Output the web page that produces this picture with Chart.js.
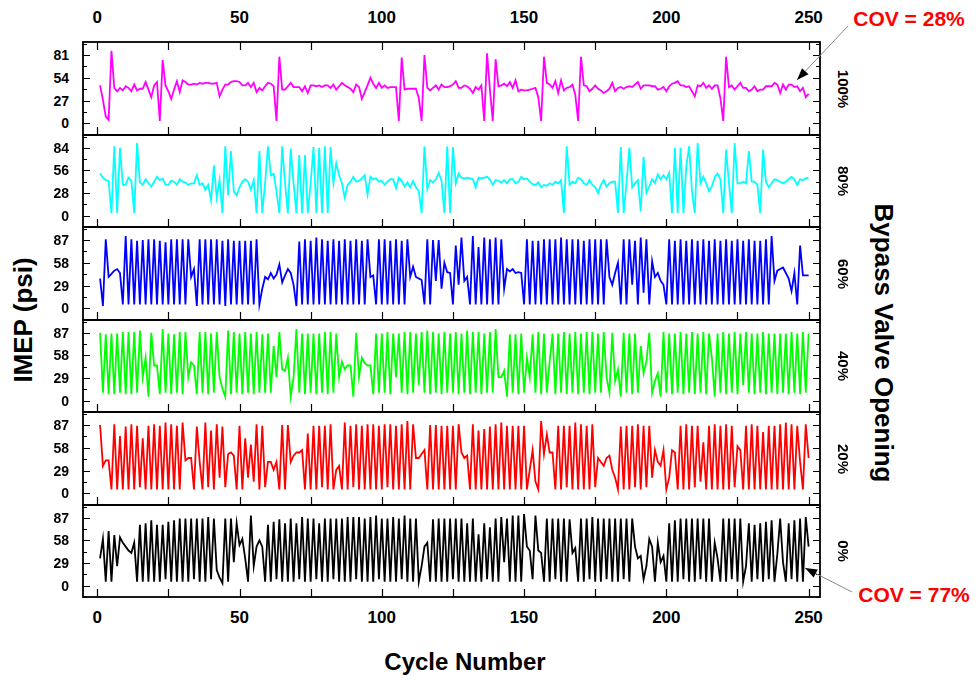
<!DOCTYPE html>
<html>
<head>
<meta charset="utf-8">
<script src="https://cdn.jsdelivr.net/npm/chart.js@4.4.0/dist/chart.umd.min.js"></script>
<style>
  body { margin: 0; background: #fff; }
  #wrap { position: relative; width: 979px; height: 684px; overflow: hidden;
          font-family: "Liberation Sans", Arial, sans-serif; font-weight: bold; color: #000; }
  #wrap canvas { position: absolute; }
  .lbl { position: absolute; white-space: nowrap; line-height: 1; }
  #arrows { position: absolute; left: 0; top: 0; }
</style>
</head>
<body>
<div id="wrap"></div>
<script>
// cycle numbers and axis labels
const cycles = Array.from({ length: 250 }, (_, i) => i + 1);
const cycleTicks = [0, 50, 100, 150, 200, 250];

// IMEP tick labels per panel
const ticks100 = [0, 27, 54, 81];
const ticks80 = [0, 28, 56, 84];
const ticks60 = [0, 29, 58, 87];
const ticks40 = [0, 29, 58, 87];
const ticks20 = [0, 29, 58, 87];
const ticks0 = [0, 29, 58, 87];

// IMEP (psi) per cycle, one list per bypass valve opening
const imep100 = [
  45, 28, 8, 4, 86, 42, 38, 42, 39, 44,
  42, 38, 46, 39, 41, 41, 49, 40, 31, 45,
  49, 3, 75, 45, 38, 29, 40, 50, 37, 51,
  49, 46, 46, 47, 46, 48, 47, 48, 48, 47,
  47, 48, 32, 40, 46, 46, 49, 50, 50, 49,
  45, 45, 48, 43, 48, 37, 42, 39, 44, 48,
  47, 44, 3, 79, 40, 40, 44, 48, 43, 43,
  43, 38, 44, 36, 45, 45, 44, 45, 43, 45,
  45, 42, 46, 40, 44, 48, 45, 43, 41, 37,
  46, 43, 29, 37, 45, 54, 47, 42, 48, 42,
  45, 42, 43, 43, 43, 3, 78, 40, 41, 41,
  41, 41, 30, 3, 81, 42, 39, 42, 45, 40,
  46, 43, 43, 44, 46, 50, 42, 42, 45, 44,
  41, 36, 43, 40, 45, 3, 83, 40, 3, 76,
  44, 45, 47, 44, 49, 42, 51, 38, 40, 39,
  39, 40, 41, 42, 31, 3, 79, 48, 46, 42,
  50, 36, 51, 39, 42, 43, 46, 34, 3, 79,
  45, 44, 38, 41, 45, 41, 39, 36, 38, 41,
  48, 38, 42, 43, 41, 43, 44, 43, 46, 49,
  41, 45, 45, 45, 44, 44, 40, 41, 43, 38,
  44, 47, 48, 50, 45, 45, 43, 44, 38, 32,
  45, 44, 48, 42, 45, 41, 45, 45, 30, 3,
  79, 43, 45, 40, 44, 48, 42, 42, 38, 40,
  44, 38, 40, 40, 44, 44, 44, 48, 46, 36,
  46, 40, 46, 46, 43, 44, 38, 42, 31, 35
];
const imep80 = [
  52, 47, 44, 43, 3, 86, 3, 84, 38, 38,
  47, 43, 3, 90, 41, 38, 45, 40, 36, 42,
  48, 44, 46, 38, 38, 43, 42, 38, 45, 42,
  41, 38, 40, 40, 50, 38, 40, 32, 38, 19,
  62, 22, 44, 3, 86, 25, 80, 30, 25, 35,
  42, 45, 42, 32, 44, 3, 80, 3, 40, 86,
  50, 52, 30, 3, 86, 40, 3, 83, 40, 3,
  75, 3, 75, 3, 40, 85, 3, 84, 3, 86,
  3, 85, 40, 65, 50, 40, 22, 38, 42, 48,
  42, 43, 46, 50, 26, 48, 45, 46, 42, 43,
  38, 42, 45, 45, 34, 47, 43, 36, 41, 35,
  43, 35, 30, 3, 86, 33, 44, 41, 45, 53,
  43, 3, 86, 3, 85, 40, 52, 47, 46, 47,
  46, 45, 35, 47, 46, 47, 48, 45, 38, 44,
  43, 41, 44, 40, 45, 45, 40, 42, 48, 45,
  46, 42, 39, 38, 41, 35, 38, 37, 40, 38,
  42, 40, 44, 3, 86, 38, 42, 40, 47, 45,
  40, 38, 44, 38, 35, 28, 38, 44, 36, 40,
  42, 42, 3, 85, 3, 40, 84, 35, 40, 44,
  5, 73, 28, 36, 45, 40, 51, 45, 50, 45,
  53, 3, 84, 3, 84, 3, 60, 86, 30, 3,
  90, 40, 48, 40, 30, 36, 48, 52, 45, 3,
  82, 40, 3, 90, 40, 40, 42, 40, 80, 42,
  42, 38, 3, 82, 42, 35, 40, 45, 44, 42,
  40, 42, 45, 48, 45, 38, 45, 44, 46, 47
];
const imep60 = [
  38, 3, 88, 40, 44, 48, 50, 45, 5, 92,
  5, 88, 5, 86, 5, 87, 5, 88, 5, 88,
  5, 86, 5, 84, 5, 88, 5, 88, 5, 88,
  5, 88, 40, 50, 3, 88, 5, 88, 5, 88,
  5, 88, 5, 86, 3, 88, 5, 86, 5, 86,
  5, 86, 5, 86, 5, 88, 5, 25, 40, 37,
  45, 38, 43, 56, 33, 42, 50, 45, 30, 3,
  85, 5, 88, 5, 86, 5, 90, 5, 88, 5,
  86, 5, 88, 5, 86, 5, 88, 5, 86, 5,
  88, 5, 86, 5, 88, 40, 42, 5, 88, 5,
  88, 5, 86, 5, 88, 5, 86, 5, 88, 40,
  53, 40, 38, 36, 5, 88, 5, 87, 35, 87,
  25, 58, 46, 45, 5, 80, 30, 90, 35, 40,
  5, 92, 5, 78, 5, 90, 5, 88, 5, 90,
  5, 88, 25, 50, 47, 50, 45, 46, 45, 5,
  88, 5, 86, 5, 86, 5, 88, 5, 88, 5,
  88, 5, 90, 5, 88, 5, 88, 5, 88, 5,
  86, 5, 88, 5, 88, 5, 88, 5, 88, 40,
  30, 45, 58, 5, 88, 5, 88, 30, 86, 5,
  90, 20, 88, 5, 60, 40, 45, 35, 30, 5,
  88, 5, 86, 5, 88, 5, 86, 5, 88, 5,
  86, 5, 88, 5, 86, 5, 88, 5, 86, 5,
  88, 5, 86, 5, 88, 5, 86, 5, 88, 5,
  86, 5, 86, 5, 88, 5, 92, 35, 48, 50,
  52, 45, 38, 22, 45, 5, 80, 42, 42, 42
];
const imep40 = [
  87, 10, 85, 8, 86, 8, 86, 10, 88, 8,
  88, 8, 88, 10, 90, 30, 55, 5, 87, 45,
  45, 8, 92, 10, 86, 8, 85, 10, 88, 8,
  88, 30, 49, 45, 8, 88, 10, 88, 8, 86,
  10, 88, 30, 15, 5, 90, 8, 88, 10, 86,
  8, 88, 10, 86, 8, 88, 10, 85, 10, 86,
  10, 70, 30, 88, 40, 38, 55, 5, 30, 92,
  10, 86, 8, 86, 10, 86, 8, 86, 10, 88,
  8, 88, 10, 86, 30, 50, 40, 45, 45, 5,
  87, 30, 55, 48, 45, 45, 8, 86, 10, 86,
  10, 88, 8, 86, 30, 86, 10, 88, 8, 88,
  10, 86, 20, 88, 10, 90, 8, 88, 10, 86,
  8, 88, 10, 86, 10, 88, 8, 86, 10, 90,
  8, 88, 10, 88, 8, 86, 10, 88, 10, 92,
  30, 30, 38, 5, 85, 10, 85, 8, 86, 10,
  55, 30, 85, 10, 88, 8, 86, 10, 50, 86,
  8, 86, 10, 88, 8, 86, 10, 88, 8, 86,
  10, 88, 8, 88, 10, 86, 10, 88, 30, 10,
  87, 25, 40, 5, 87, 10, 86, 8, 86, 10,
  70, 35, 50, 87, 10, 25, 35, 5, 88, 10,
  86, 8, 86, 10, 88, 8, 86, 10, 88, 8,
  86, 10, 88, 8, 86, 55, 5, 86, 10, 88,
  8, 86, 10, 88, 8, 86, 20, 88, 10, 86,
  8, 86, 10, 88, 8, 86, 10, 86, 8, 86,
  10, 86, 8, 88, 10, 86, 8, 88, 10, 86
];
const imep20 = [
  87, 35, 42, 42, 5, 88, 5, 73, 5, 85,
  5, 88, 5, 86, 8, 70, 5, 86, 5, 88,
  5, 86, 5, 90, 5, 88, 5, 86, 5, 90,
  42, 45, 45, 5, 85, 40, 5, 90, 8, 80,
  5, 88, 20, 85, 8, 50, 52, 48, 5, 86,
  5, 70, 20, 62, 15, 88, 5, 86, 8, 40,
  40, 30, 40, 5, 87, 5, 87, 40, 48, 52,
  52, 55, 5, 76, 5, 86, 5, 86, 8, 86,
  5, 88, 5, 30, 35, 5, 90, 5, 86, 8,
  88, 5, 86, 5, 88, 5, 88, 5, 86, 5,
  88, 8, 88, 5, 86, 5, 88, 5, 92, 5,
  88, 45, 45, 50, 55, 5, 87, 5, 87, 5,
  86, 5, 86, 5, 86, 5, 88, 52, 45, 48,
  5, 88, 5, 80, 5, 82, 5, 85, 5, 88,
  5, 90, 5, 86, 5, 86, 5, 86, 5, 86,
  5, 30, 55, 15, 5, 92, 50, 75, 52, 52,
  5, 86, 5, 86, 8, 86, 5, 90, 5, 88,
  5, 86, 5, 88, 8, 45, 40, 35, 45, 48,
  30, 20, 5, 85, 5, 86, 5, 86, 8, 88,
  5, 86, 8, 86, 20, 55, 40, 35, 55, 5,
  20, 55, 52, 5, 86, 5, 88, 5, 86, 8,
  86, 15, 65, 5, 86, 5, 88, 5, 86, 5,
  88, 5, 86, 8, 60, 55, 5, 86, 5, 88,
  5, 86, 5, 78, 5, 86, 5, 86, 5, 88,
  5, 90, 5, 88, 5, 86, 40, 5, 88, 45
];
const imep0 = [
  35, 60, 5, 70, 5, 65, 25, 62, 55, 50,
  45, 42, 55, 5, 78, 5, 80, 5, 84, 5,
  78, 5, 78, 8, 82, 5, 84, 5, 86, 5,
  86, 5, 86, 8, 86, 5, 86, 5, 88, 8,
  86, 20, 10, 3, 86, 5, 86, 30, 80, 52,
  60, 35, 5, 90, 25, 50, 58, 50, 5, 78,
  5, 82, 8, 85, 5, 80, 5, 86, 5, 80,
  8, 88, 5, 86, 5, 86, 8, 80, 5, 86,
  5, 86, 8, 86, 5, 86, 5, 88, 5, 88,
  8, 88, 5, 86, 5, 88, 5, 90, 8, 86,
  5, 86, 5, 88, 5, 86, 8, 90, 5, 86,
  5, 86, 5, 25, 50, 55, 5, 85, 5, 86,
  5, 86, 5, 86, 8, 86, 5, 86, 5, 80,
  5, 86, 5, 66, 5, 80, 8, 75, 5, 86,
  5, 88, 30, 86, 5, 90, 5, 90, 5, 92,
  50, 45, 8, 90, 45, 42, 5, 86, 5, 86,
  8, 86, 5, 86, 5, 85, 42, 48, 5, 86,
  5, 86, 8, 88, 5, 86, 5, 86, 8, 86,
  5, 86, 5, 86, 8, 86, 5, 86, 50, 35,
  38, 8, 25, 60, 50, 5, 55, 30, 38, 5,
  80, 5, 84, 5, 86, 8, 86, 5, 86, 5,
  86, 8, 86, 5, 86, 5, 55, 35, 5, 86,
  5, 86, 8, 86, 5, 86, 5, 25, 80, 5,
  78, 8, 80, 5, 82, 8, 84, 5, 40, 86,
  30, 5, 80, 8, 84, 5, 86, 5, 88, 50
];

const panels = [
  { name: '100%', color: '#ff00ff', ticks: ticks100, data: imep100 },
  { name: '80%', color: '#00ffff', ticks: ticks80, data: imep80 },
  { name: '60%', color: '#0000ff', ticks: ticks60, data: imep60 },
  { name: '40%', color: '#00ff00', ticks: ticks40, data: imep40 },
  { name: '20%', color: '#ff0000', ticks: ticks20, data: imep20 },
  { name: '0%', color: '#000000', ticks: ticks0, data: imep0 }
];

// page layout (px)
const plotLeft = 83, plotRight = 820;
const panelTop = [42, 135, 227, 320, 412, 505];
const plotBottom = 597;
const pad = 4;

const wrap = document.getElementById('wrap');

function addText(txt, x, y, size, extra) {
  const d = document.createElement('div');
  d.className = 'lbl';
  d.textContent = txt;
  d.style.left = x + 'px';
  d.style.top = y + 'px';
  d.style.fontSize = size + 'px';
  d.style.transform = 'translate(-50%,-50%)' + (extra && extra.rotate ? ' rotate(' + extra.rotate + 'deg)' : '');
  if (extra && extra.color) d.style.color = extra.color;
  wrap.appendChild(d);
  return d;
}

// frame + inward ticks, drawn from the chart's scales
const frame = {
  id: 'frame',
  afterDraw(chart, args, opts) {
    const { ctx, chartArea: a, scales: { x, y } } = chart;
    const step = opts.ticks[1];
    ctx.save();
    ctx.strokeStyle = '#000';
    ctx.lineWidth = 1.2;
    ctx.beginPath();
    for (let k = -1; k * step / 2 <= y.max; k++) {
      const v = k * step / 2;
      if (v < y.min) continue;
      const py = Math.round(y.getPixelForValue(v)) + 0.5;
      const len = k % 2 === 0 ? 7 : 4;
      ctx.moveTo(a.left, py); ctx.lineTo(a.left + len, py);
      ctx.moveTo(a.right, py); ctx.lineTo(a.right - len, py);
    }
    for (let c = 0; c <= 250; c += 25) {
      const px = Math.round(x.getPixelForValue(c)) + 0.5;
      ctx.moveTo(px, a.bottom); ctx.lineTo(px, a.bottom - 8);
      if (opts.top) { ctx.moveTo(px, a.top); ctx.lineTo(px, a.top + 8); }
    }
    ctx.stroke();
    ctx.lineWidth = 1.8;
    ctx.strokeRect(a.left, a.top, a.right - a.left, a.bottom - a.top);
    ctx.restore();
  }
};

panels.forEach((p, i) => {
  const top = panelTop[i];
  const bottom = i < panels.length - 1 ? panelTop[i + 1] : plotBottom;
  const cv = document.createElement('canvas');
  cv.width = plotRight - plotLeft + 2 * pad;
  cv.height = bottom - top + 2 * pad;
  cv.style.left = (plotLeft - pad) + 'px';
  cv.style.top = (top - pad) + 'px';
  wrap.appendChild(cv);

  const M = p.ticks[p.ticks.length - 1];
  const chart = new Chart(cv, {
    type: 'line',
    data: {
      datasets: [{
        data: cycles.map((c, j) => ({ x: c, y: p.data[j] })),
        borderColor: p.color,
        borderWidth: 1.8,
        pointRadius: 0,
        tension: 0
      }]
    },
    options: {
      responsive: false,
      animation: false,
      events: [],
      layout: { padding: pad },
      plugins: {
        legend: { display: false },
        tooltip: { enabled: false },
        frame: { ticks: p.ticks, top: i === 0 }
      },
      scales: {
        x: { type: 'linear', min: -5, max: 254, display: false },
        y: { min: -0.17 * M, max: 1.19 * M, display: false }
      }
    },
    plugins: [frame]
  });

  const ys = chart.scales.y, xs = chart.scales.x;
  const oy = top - pad, ox = plotLeft - pad;
  p.ticks.forEach(t => {
    const d = addText(String(t), 0, oy + ys.getPixelForValue(t), 14);
    d.style.left = 'auto';
    d.style.right = (979 - 69) + 'px';
    d.style.transform = 'translateY(-50%)';
  });
  if (i === 0) cycleTicks.forEach(c => addText(String(c), ox + xs.getPixelForValue(c), 17, 17));
  if (i === panels.length - 1) cycleTicks.forEach(c => addText(String(c), ox + xs.getPixelForValue(c), 617, 17));
  addText(p.name, 843, (top + bottom) / 2, 15, { rotate: 90 });
});

addText('Cycle Number', 465, 662, 24);
addText('IMEP (psi)', 23, 320, 26, { rotate: -90 });
addText('Bypass Valve Opening', 884, 343, 26, { rotate: 90 });
addText('COV = 28%', 909, 18, 21, { color: '#ff0000' });
addText('COV = 77%', 914, 594, 21, { color: '#ff0000' });

// annotation arrows
const svgNS = 'http://www.w3.org/2000/svg';
const svg = document.createElementNS(svgNS, 'svg');
svg.setAttribute('id', 'arrows');
svg.setAttribute('width', 979);
svg.setAttribute('height', 684);
wrap.appendChild(svg);
function arrow(x1, y1, x2, y2) {
  const line = document.createElementNS(svgNS, 'line');
  line.setAttribute('x1', x1); line.setAttribute('y1', y1);
  line.setAttribute('x2', x2); line.setAttribute('y2', y2);
  line.setAttribute('stroke', '#888'); line.setAttribute('stroke-width', 1);
  svg.appendChild(line);
  const ang = Math.atan2(y2 - y1, x2 - x1), L = 12, W = 4.5;
  const bx = x2 - L * Math.cos(ang), by = y2 - L * Math.sin(ang);
  const px = -Math.sin(ang) * W, py = Math.cos(ang) * W;
  const head = document.createElementNS(svgNS, 'polygon');
  head.setAttribute('points', `${x2},${y2} ${bx + px},${by + py} ${bx - px},${by - py}`);
  head.setAttribute('fill', '#000');
  svg.appendChild(head);
}
arrow(848, 26, 797, 80);
arrow(852, 592, 805, 568);
</script>
</body>
</html>
